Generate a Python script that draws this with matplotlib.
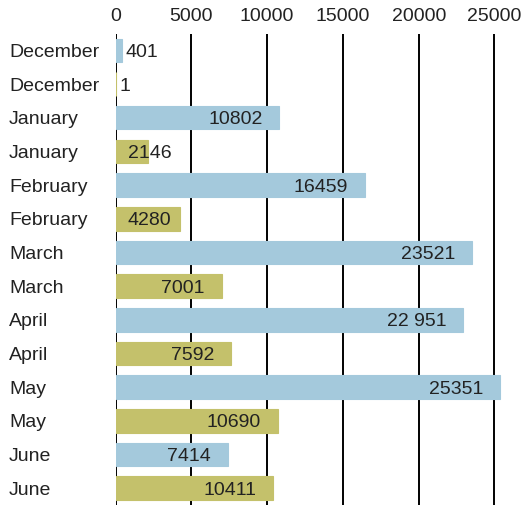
import matplotlib.pyplot as plt

# data (top to bottom)
months = ['December', 'December', 'January', 'January', 'February', 'February',
          'March', 'March', 'April', 'April', 'May', 'May', 'June', 'June']
values = [401, 1, 10802, 2146, 16459, 4280, 23521, 7001, 22951, 7592,
          25351, 10690, 7414, 10411]
value_labels = ['401', '1', '10802', '2146', '16459', '4280', '23521', '7001',
                '22 951', '7592', '25351', '10690', '7414', '10411']
x_ticks = [0, 5000, 10000, 15000, 20000, 25000]

blue = '#a4c9dc'
olive = '#c4c16b'
colors = [blue if i % 2 == 0 else olive for i in range(len(values))]

plt.rcParams['font.family'] = ['Liberation Sans', 'DejaVu Sans']
fig = plt.figure(figsize=(5.25, 5.05), dpi=100)
ax = fig.add_axes([115.5 / 525, 0, 1 - 115.5 / 525, 1 - 33.5 / 505])

ypos = list(range(len(values)))
ax.barh(ypos, values, height=0.7, color=colors, edgecolor=colors,
        linewidth=0.8, zorder=2)

# value labels
for y, v, lab in zip(ypos, values, value_labels):
    if v < 1000:
        # tiny bar: text just after the bar end
        ax.annotate(lab, (v, y), xytext=(3, 0), textcoords='offset points',
                    ha='left', va='center_baseline', fontsize=14, color='#222222', zorder=3)
    elif v < 5000:
        # short bar: text starts a bit in from the axis
        ax.annotate(lab, (0, y), xytext=(9, 0), textcoords='offset points',
                    ha='left', va='center_baseline', fontsize=14, color='#222222', zorder=3)
    else:
        ax.annotate(lab, (v, y), xytext=(-12, 0), textcoords='offset points',
                    ha='right', va='center_baseline', fontsize=14, color='#222222', zorder=3)

ax.set_xlim(0, (525 - 115.5) / 15.16 * 1000)
ax.set_ylim(len(values) - 0.5, -0.5)
ax.set_xticks(x_ticks)
ax.set_xticklabels([str(t) for t in x_ticks])
ax.xaxis.tick_top()
ax.grid(axis='x', color='black', linewidth=1.4, zorder=1)
ax.set_axisbelow(True)

ax.set_yticks(ypos)
ax.set_yticklabels(months)
for t in ax.get_yticklabels():
    t.set_horizontalalignment('left')
ax.tick_params(axis='y', length=0, pad=(115.5 - 9) * 0.72, labelsize=14, labelcolor='#222222')
ax.tick_params(axis='x', length=0, pad=6, labelsize=14, labelcolor='#222222')

for s in ax.spines.values():
    s.set_visible(False)

fig.savefig('out.png', dpi=100)
